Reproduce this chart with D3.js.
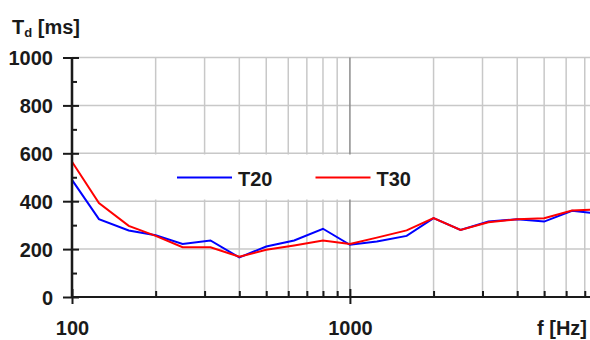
<!DOCTYPE html>
<html>
<head>
<meta charset="utf-8">
<script src="https://cdn.jsdelivr.net/npm/d3@7"></script>
<style>
body { margin: 0; background: #fff; }
svg { display: block; font-family: "Liberation Sans", Arial, sans-serif; font-weight: bold; }
</style>
</head>
<body>
<script>
var W = 590, H = 340;
var freqs = [100,125,160,200,250,315,400,500,630,800,1000,1250,1600,2000,2500,3150,4000,5000,6300,8000];
var t20 = [489,325,278,258,221,236,165,211,236,285,218,232,255,329,280,315,325,315,360,346];
var t30 = [565,392,297,255,208,208,168,197,215,236,221,248,278,329,280,312,325,329,361,366];
var yTicks = [0,200,400,600,800,1000];
var yMinor = [100,300,500,700,900];
var xLabels = [100,1000];
var xMinor = [200,300,400,500,600,700,800,900,2000,3000,4000,5000,6000,7000];

var x = d3.scaleLog().domain([100, 7250]).range([72, 589]);
var y = d3.scaleLinear().domain([0, 1000]).range([297, 57.5]);

var svg = d3.select("body").append("svg").attr("width", W).attr("height", H);

svg.append("clipPath").attr("id", "plot")
  .append("rect").attr("x", 72).attr("y", 50).attr("width", 520).attr("height", 250);

// grid
svg.append("g").selectAll("line").data(yTicks.slice(1)).enter().append("line")
  .attr("x1", 72).attr("x2", W)
  .attr("y1", d => y(d)).attr("y2", d => y(d))
  .attr("stroke", "#c8c8c8").attr("stroke-width", 1.5);
svg.append("g").selectAll("line").data(xMinor.concat([1000])).enter().append("line")
  .attr("x1", d => x(d)).attr("x2", d => x(d))
  .attr("y1", y(0)).attr("y2", y(1000))
  .attr("stroke", d => d === 1000 ? "#8c8c8c" : "#c8c8c8").attr("stroke-width", 1.5);

// legend box (covers grid)
svg.append("rect").attr("x", 78).attr("y", 154.5).attr("width", 344).attr("height", 45).attr("fill", "#fff");

// series
var line = d3.line().x((d, i) => x(freqs[i])).y(d => y(d));
var lines = svg.append("g").attr("clip-path", "url(#plot)");
lines.append("path").datum(t20).attr("d", line).attr("fill", "none").attr("stroke", "#0000ff").attr("stroke-width", 2);
lines.append("path").datum(t30).attr("d", line).attr("fill", "none").attr("stroke", "#ff0000").attr("stroke-width", 2);

// axes
var gx = svg.append("g").attr("transform", "translate(0," + y(0) + ")");
gx.call(d3.axisBottom(x).tickValues(xLabels).tickSize(7).tickFormat(d3.format("d")));
gx.append("g").call(d3.axisBottom(x).tickValues(xMinor).tickSize(-6).tickFormat(""));
gx.append("g").call(d3.axisBottom(x).tickValues(xLabels).tickSize(-8).tickFormat(""));
gx.selectAll(".domain").attr("stroke", "#1a1a1a").attr("stroke-width", 2.2).attr("d", "M72,0H590");
gx.selectAll(".tick line").attr("stroke", "#1a1a1a").attr("stroke-width", 2);
gx.selectAll(".tick text").attr("y", 38).attr("dy", 0).attr("fill", "#1a1a1a")
  .style("font-size", "20px").style("font-family", "inherit").style("font-weight", "bold");

var gy = svg.append("g").attr("transform", "translate(72,0)");
gy.call(d3.axisLeft(y).tickValues(yTicks).tickSize(9).tickPadding(10).tickFormat(d3.format("d")));
gy.append("g").call(d3.axisRight(y).tickValues(yTicks).tickSize(7).tickFormat(""));
gy.append("g").call(d3.axisRight(y).tickValues(yMinor).tickSize(5).tickFormat(""));
gy.selectAll(".domain").attr("stroke", "#1a1a1a").attr("stroke-width", 2.2).attr("d", "M0," + y(1000) + "V" + y(0));
gy.selectAll(".tick line").attr("stroke", "#1a1a1a").attr("stroke-width", 2);
gy.selectAll(".tick text").attr("fill", "#1a1a1a").attr("dy", "0.36em")
  .style("font-size", "20px").style("font-family", "inherit").style("font-weight", "bold");

// axis titles
var yt = svg.append("text").attr("x", 12).attr("y", 34).attr("fill", "#1a1a1a").style("font-size", "20px");
yt.append("tspan").text("T");
yt.append("tspan").attr("dy", 3).style("font-size", "13px").text("d");
yt.append("tspan").attr("dy", -3).text(" [ms]");
svg.append("text").attr("x", 587).attr("y", 335).attr("text-anchor", "end")
  .attr("fill", "#1a1a1a").style("font-size", "20px").text("f [Hz]");

// legend
var names = ["T20", "T30"];
var colors = ["#0000ff", "#ff0000"];
var lg = svg.append("g").selectAll("g").data(names).enter().append("g")
  .attr("transform", (d, i) => "translate(" + (177 + i * 138.5) + ",177.5)");
lg.append("line").attr("x1", 0).attr("x2", 55).attr("stroke", (d, i) => colors[i]).attr("stroke-width", 2);
lg.append("text").attr("x", 61).attr("y", 8.5).attr("fill", "#1a1a1a").style("font-size", "20px").text(d => d);
</script>
</body>
</html>
